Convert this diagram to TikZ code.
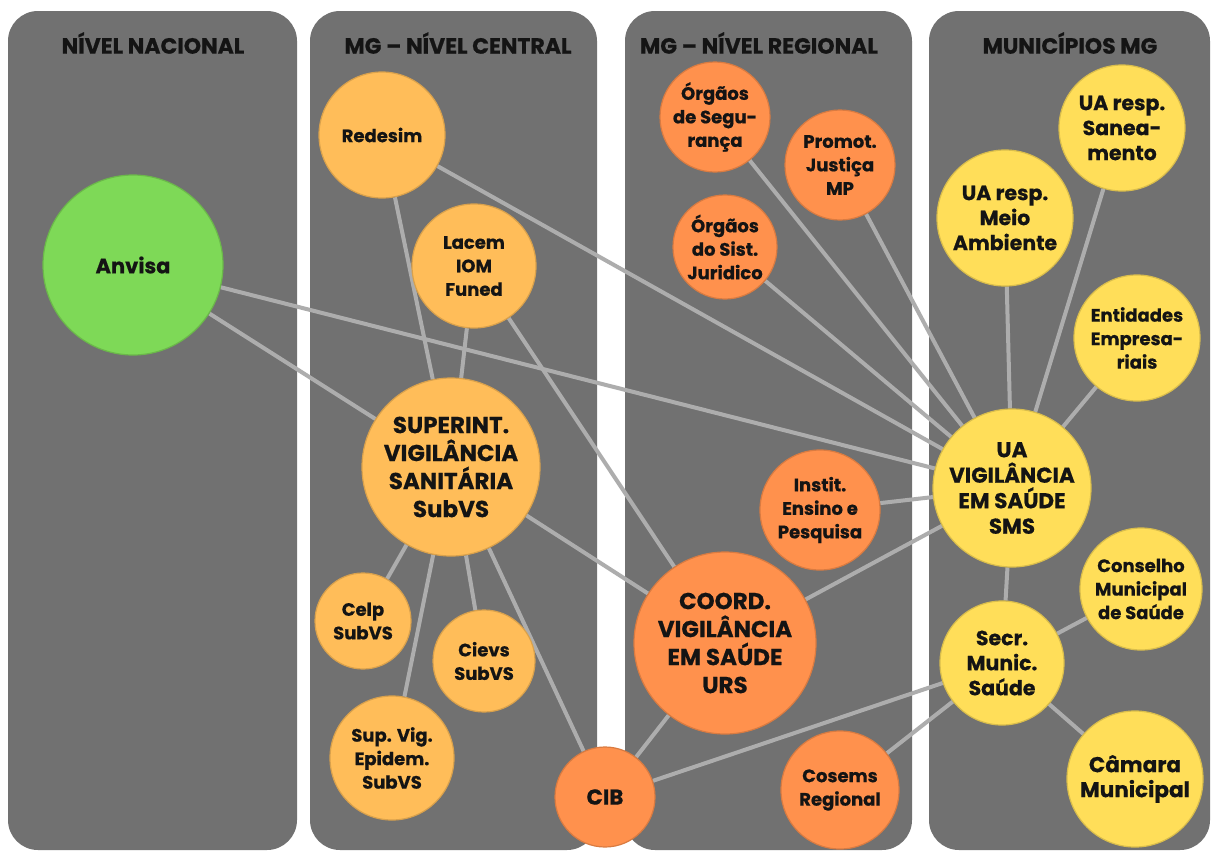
\documentclass[tikz,border=0pt]{standalone}
\usepackage{fontspec}
\setmainfont{Poppins}[BoldFeatures={FakeBold=0.6}]
\pgfdeclarelayer{panellayer}
\pgfdeclarelayer{edgelayer}
\pgfsetlayers{panellayer,edgelayer,main}
\definecolor{panelgray}{HTML}{717171}
\definecolor{edgegray}{HTML}{ADADAD}
\definecolor{cgreen}{HTML}{7ED957}
\definecolor{corangeL}{HTML}{FFBD59}
\definecolor{corange}{HTML}{FF914D}
\definecolor{cyellow}{HTML}{FFDE59}
\definecolor{txt}{HTML}{141414}
\tikzset{
  panel/.style={fill=panelgray, rounded corners=30pt},
  hdr/.style={text=txt, font=\bfseries\fontsize{22}{26}\selectfont},
  bubble/.style={circle, inner sep=0pt, align=center, text=txt, line width=1.2pt},
  lvnat/.style={bubble, fill=cgreen, draw=cgreen!85!black},
  lvcen/.style={bubble, fill=corangeL, draw=corangeL!85!black},
  lvreg/.style={bubble, fill=corange, draw=corange!85!black},
  lvmun/.style={bubble, fill=cyellow, draw=cyellow!85!black},
  fbig/.style={font=\bfseries\fontsize{23}{28}\selectfont},
  fmid/.style={font=\bfseries\fontsize{20.5}{25}\selectfont},
  fsmall/.style={font=\bfseries\fontsize{18}{23.5}\selectfont},
  link/.style={draw=edgegray, line width=4pt},
}
\begin{document}
\begin{tikzpicture}[x=1pt,y=-1pt]
\useasboundingbox (0,0) rectangle (1216,852);
\begin{pgfonlayer}{panellayer}
  \fill[white] (0,0) rectangle (1216,852);
  \path[panel] (8,11) rectangle (297,850);
  \path[panel] (310,11) rectangle (597,850);
  \path[panel] (625,11) rectangle (912,850);
  \path[panel] (929,11) rectangle (1210,850);
\end{pgfonlayer}
\node[hdr] (h1) at (153,43) {NÍVEL NACIONAL};
\node[hdr] (h2) at (458,43) {MG – NÍVEL CENTRAL};
\node[hdr] (h3) at (759,43) {MG – NÍVEL REGIONAL};
\node[hdr] (h4) at (1070,43) {MUNICÍPIOS MG};

% national
\node[lvnat, minimum size=180pt, font=\bfseries\fontsize{21}{26}\selectfont] (anv) at (133,265) {Anvisa};
% central
\node[lvcen, fsmall, minimum size=126pt] (red) at (382,135) {Redesim};
\node[lvcen, fsmall, minimum size=124pt] (lac) at (474,266) {Lacem\\IOM\\Funed};
\node[lvcen, fbig, minimum size=178pt] (sup) at (451,467) {SUPERINT.\\VIGILÂNCIA\\SANITÁRIA\\SubVS};
\node[lvcen, fsmall, minimum size=96pt] (celp) at (363,621) {Celp\\SubVS};
\node[lvcen, fsmall, minimum size=102pt] (cievs) at (484,661) {Cievs\\SubVS};
\node[lvcen, fsmall, minimum size=124pt] (epi) at (392,758) {Sup. Vig.\\Epidem.\\SubVS};
% regional
\node[lvreg, fsmall, minimum size=110pt] (seg) at (715,117) {Órgãos\\de Segu-\\rança};
\node[lvreg, fsmall, minimum size=110pt] (prom) at (840,165) {Promot.\\Justiça\\MP};
\node[lvreg, fsmall, minimum size=104pt] (jur) at (725,247) {Órgãos\\do Sist.\\Juridico};
\node[lvreg, fsmall, minimum size=120pt] (inst) at (820,510) {Instit.\\Ensino e\\Pesquisa};
\node[lvreg, fbig, minimum size=182pt] (coord) at (725,643) {COORD.\\VIGILÂNCIA\\EM SAÚDE\\URS};
\node[lvreg, font=\bfseries\fontsize{21.5}{26}\selectfont, minimum size=100pt] (cib) at (605,797) {CIB};
\node[lvreg, fsmall, minimum size=118pt] (cos) at (840,790) {Cosems\\Regional};
% municipal
\node[lvmun, fmid, minimum size=126pt] (san) at (1122,128) {UA resp.\\Sanea-\\mento};
\node[lvmun, fmid, minimum size=136pt] (meio) at (1005,218) {UA resp.\\Meio\\Ambiente};
\node[lvmun, fsmall, minimum size=126pt] (ent) at (1137,338) {Entidades\\Empresa-\\riais};
\node[lvmun, font=\bfseries\fontsize{21.5}{25.5}\selectfont, minimum size=158pt] (sms) at (1012,488) {UA\\VIGILÂNCIA\\EM SAÚDE\\SMS};
\node[lvmun, fsmall, minimum size=122pt] (cons) at (1141,589) {Conselho\\Municipal\\de Saúde};
\node[lvmun, font=\bfseries\fontsize{20.5}{25}\selectfont, minimum size=124pt] (secr) at (1002,663) {Secr.\\Munic.\\Saúde};
\node[lvmun, font=\bfseries\fontsize{21.5}{25}\selectfont, minimum size=136pt] (cam) at (1135,779) {Câmara\\Municipal};

\begin{pgfonlayer}{edgelayer}
  \draw[link] (anv) -- (sup);
  \draw[link] (anv) -- (sms);
  \draw[link] (red) -- (sms);
  \draw[link] (red) -- (sup);
  \draw[link] (lac) -- (sup);
  \draw[link] (lac) -- (coord);
  \draw[link] (sup) -- (coord);
  \draw[link] (sup) -- (celp);
  \draw[link] (sup) -- (epi);
  \draw[link] (sup) -- (cievs);
  \draw[link] (sup) -- (cib);
  \draw[link] (seg) -- (sms);
  \draw[link] (prom) -- (sms);
  \draw[link] (jur) -- (sms);
  \draw[link] (meio) -- (sms);
  \draw[link] (san) -- (sms);
  \draw[link] (ent) -- (sms);
  \draw[link] (inst) -- (sms);
  \draw[link] (coord) -- (sms);
  \draw[link] (sms) -- (secr);
  \draw[link] (secr) -- (cons);
  \draw[link] (secr) -- (cam);
  \draw[link] (secr) -- (cib);
  \draw[link] (secr) -- (cos);
  \draw[link] (coord) -- (cib);
\end{pgfonlayer}
\end{tikzpicture}
\end{document}
